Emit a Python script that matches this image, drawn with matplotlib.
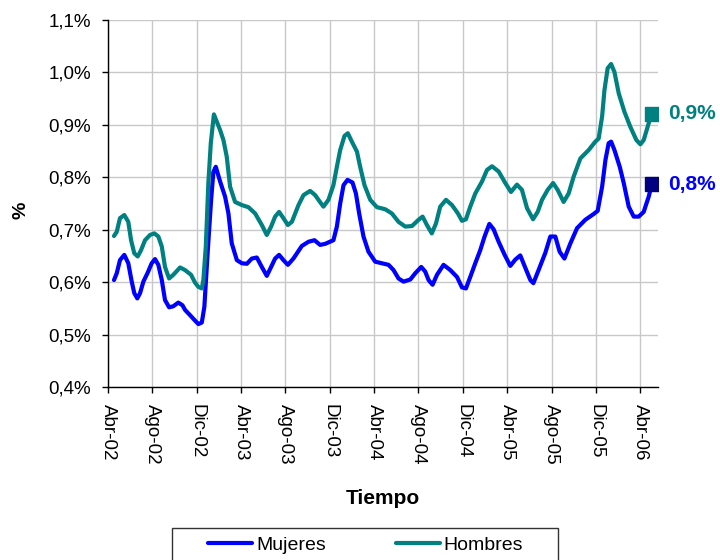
import matplotlib
matplotlib.use('Agg')
import matplotlib.pyplot as plt
from matplotlib.patches import Rectangle

plt.rcParams['font.family'] = ['Liberation Sans', 'DejaVu Sans']

# meses desde Abr-02
meses_h = [0.54, 0.79, 1.08, 1.47, 1.83, 2.08, 2.37, 2.68, 2.98, 3.34, 3.79, 4.18, 4.54, 4.85,
           5.14, 5.51, 5.89, 6.50, 6.95, 7.49, 7.85, 8.15, 8.46, 8.60, 8.82, 9.05, 9.27, 9.55,
           10.11, 10.41, 10.71, 11.01, 11.46, 12.07, 12.66, 13.27, 13.87, 14.32, 14.71, 15.07,
           15.43, 15.82, 16.22, 16.58, 17.18, 17.63, 18.23, 18.68, 18.98, 19.43, 19.88, 20.33,
           20.64, 20.94, 21.33, 21.63, 21.99, 22.45, 22.74, 23.13, 23.65, 24.25, 25.00, 25.60,
           26.20, 26.81, 27.41, 28.01, 28.37, 28.76, 29.20, 29.58, 29.96, 30.48, 31.02, 31.56,
           31.92, 32.28, 32.67, 33.12, 33.73, 34.18, 34.63, 35.23, 35.83, 36.34, 36.88, 37.33,
           37.79, 38.33, 38.75, 39.14, 39.65, 40.14, 40.55, 41.09, 41.54, 41.99, 42.60, 43.35,
           43.95, 44.25, 44.56, 44.77, 45.06, 45.37, 45.67, 46.06, 46.57, 47.11, 47.65, 48.01,
           48.31, 48.76, 49.05]
hombres = [0.688, 0.696, 0.722, 0.728, 0.715, 0.680, 0.655, 0.649, 0.661, 0.680, 0.690, 0.693,
           0.687, 0.668, 0.629, 0.607, 0.614, 0.628, 0.623, 0.614, 0.599, 0.591, 0.588, 0.604,
           0.668, 0.789, 0.865, 0.920, 0.890, 0.871, 0.839, 0.782, 0.753, 0.747, 0.743, 0.731,
           0.709, 0.690, 0.706, 0.725, 0.734, 0.722, 0.709, 0.715, 0.747, 0.766, 0.774, 0.766,
           0.757, 0.744, 0.757, 0.785, 0.820, 0.852, 0.879, 0.884, 0.868, 0.849, 0.820, 0.785,
           0.757, 0.743, 0.739, 0.731, 0.715, 0.706, 0.707, 0.719, 0.725, 0.709, 0.693, 0.712,
           0.744, 0.757, 0.747, 0.731, 0.717, 0.720, 0.744, 0.769, 0.792, 0.814, 0.821, 0.811,
           0.789, 0.772, 0.786, 0.776, 0.741, 0.720, 0.734, 0.757, 0.776, 0.789, 0.776, 0.753,
           0.769, 0.801, 0.836, 0.852, 0.868, 0.874, 0.916, 0.966, 1.008, 1.016, 1.001, 0.960,
           0.925, 0.896, 0.871, 0.863, 0.871, 0.903, 0.921]

meses_m = [0.54, 0.79, 1.08, 1.47, 1.83, 2.14, 2.37, 2.64, 2.89, 3.19, 3.58, 3.94, 4.24, 4.54,
           4.85, 5.14, 5.51, 5.89, 6.34, 6.71, 6.95, 7.40, 7.79, 8.15, 8.46, 8.69, 9.00, 9.30,
           9.50, 9.72, 10.11, 10.56, 10.86, 11.16, 11.62, 12.07, 12.52, 12.97, 13.42, 13.87,
           14.32, 14.71, 15.07, 15.43, 15.82, 16.22, 16.72, 17.48, 18.08, 18.62, 19.13, 19.58,
           20.33, 20.64, 20.94, 21.24, 21.60, 22.05, 22.36, 22.65, 23.04, 23.49, 24.10, 24.70,
           25.30, 25.75, 26.20, 26.65, 27.26, 27.71, 28.25, 28.61, 28.91, 29.27, 29.67, 30.26,
           30.87, 31.47, 31.92, 32.28, 32.67, 33.12, 33.57, 33.96, 34.39, 34.77, 35.23, 35.77,
           36.28, 36.73, 37.18, 37.64, 38.09, 38.36, 38.83, 39.44, 39.89, 40.34, 40.73, 41.16,
           41.70, 42.30, 43.05, 43.80, 44.16, 44.56, 44.86, 45.15, 45.37, 45.67, 46.15, 46.51,
           46.96, 47.41, 47.86, 48.31, 48.76, 49.05]
mujeres = [0.604, 0.617, 0.642, 0.652, 0.636, 0.601, 0.579, 0.569, 0.579, 0.601, 0.618, 0.636,
           0.644, 0.633, 0.604, 0.566, 0.552, 0.554, 0.561, 0.556, 0.547, 0.537, 0.528, 0.520,
           0.523, 0.553, 0.661, 0.757, 0.810, 0.820, 0.792, 0.763, 0.731, 0.674, 0.642, 0.636,
           0.635, 0.645, 0.647, 0.629, 0.612, 0.629, 0.645, 0.652, 0.642, 0.633, 0.645, 0.669,
           0.677, 0.680, 0.671, 0.673, 0.680, 0.706, 0.750, 0.785, 0.795, 0.790, 0.769, 0.731,
           0.687, 0.658, 0.639, 0.636, 0.633, 0.623, 0.607, 0.601, 0.605, 0.617, 0.629, 0.620,
           0.604, 0.595, 0.614, 0.633, 0.623, 0.610, 0.590, 0.588, 0.610, 0.636, 0.661, 0.687,
           0.711, 0.701, 0.677, 0.652, 0.631, 0.643, 0.651, 0.627, 0.604, 0.598, 0.623, 0.656,
           0.687, 0.687, 0.658, 0.645, 0.674, 0.703, 0.719, 0.730, 0.736, 0.782, 0.833, 0.865,
           0.868, 0.852, 0.820, 0.789, 0.744, 0.725, 0.725, 0.734, 0.763, 0.787]

ticks_x = [0, 4, 8, 12, 16, 20, 24, 28, 32, 36, 40, 44, 48]
etiquetas_x = ['Abr-02', 'Ago-02', 'Dic-02', 'Abr-03', 'Ago-03', 'Dic-03', 'Abr-04',
               'Ago-04', 'Dic-04', 'Abr-05', 'Ago-05', 'Dic-05', 'Abr-06']
ticks_y = [0.4, 0.5, 0.6, 0.7, 0.8, 0.9, 1.0, 1.1]
etiquetas_y = ['0,4%', '0,5%', '0,6%', '0,7%', '0,8%', '0,9%', '1,0%', '1,1%']

azul = '#0000ff'
verde = '#008080'

fig = plt.figure(figsize=(7.2, 5.6), dpi=100)
ax = fig.add_axes([108/720, 1 - 387/560, 550/720, 367/560])

ax.plot(meses_m, mujeres, color=azul, lw=3, solid_capstyle='round', solid_joinstyle='round',
        label='Mujeres', zorder=3)
ax.plot(meses_h, hombres, color=verde, lw=3, solid_capstyle='round', solid_joinstyle='round',
        label='Hombres', zorder=3)

# marcadores finales con etiqueta
ax.plot(meses_h[-1], hombres[-1], 's', color=verde, ms=10, zorder=4)
ax.plot(meses_m[-1], mujeres[-1], 's', color='#000080', ms=10, zorder=4)
ax.annotate(f'{hombres[-1]:.1f}%'.replace('.', ','), (meses_h[-1], hombres[-1]),
            xytext=(12, 0), textcoords='offset points', va='center', ha='left',
            color=verde, fontsize=15, fontweight='bold', annotation_clip=False)
ax.annotate(f'{mujeres[-1]:.1f}%'.replace('.', ','), (meses_m[-1], mujeres[-1]),
            xytext=(12, 0), textcoords='offset points', va='center', ha='left',
            color=azul, fontsize=15, fontweight='bold', annotation_clip=False)

ax.set_xlim(0, 49.6)
ax.set_ylim(0.4, 1.1)
ax.set_xticks(ticks_x)
ax.set_xticklabels(etiquetas_x, rotation=-90, fontsize=13.5)
ax.set_yticks(ticks_y)
ax.set_yticklabels(etiquetas_y, fontsize=13.5)
ax.tick_params(axis='both', length=4, width=1, color='black', pad=8)
ax.grid(True, color='#c8c8c8', lw=1)
ax.set_axisbelow(True)
for s in ['top', 'right']:
    ax.spines[s].set_visible(False)
for s in ['left', 'bottom']:
    ax.spines[s].set_color('black')
    ax.spines[s].set_linewidth(1)

fig.text(383/720, 1 - 498/560, 'Tiempo', ha='center', va='center', fontsize=15,
         fontweight='bold')
fig.text(21/720, 1 - 210/560, '%', ha='center', va='center', rotation=90, fontsize=14,
         fontweight='bold')

# leyenda abajo, cortada por el borde
fig.add_artist(Rectangle((172/720, -0.1), 386/720, 0.1 + 32/560, transform=fig.transFigure,
                         fill=False, edgecolor='#333333', lw=1))
fig.legend(loc='center left', bbox_to_anchor=(208/720, 1 - 545/560), ncol=2, frameon=False,
           fontsize=14, borderpad=0, borderaxespad=0, handlelength=2.27,
           handletextpad=0.2, columnspacing=3.6)

fig.savefig('out.png', dpi=100)
